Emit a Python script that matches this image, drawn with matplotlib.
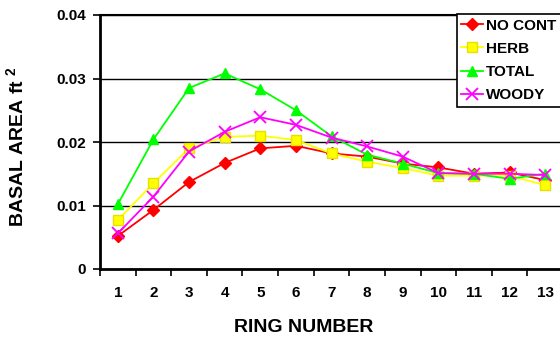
import matplotlib
matplotlib.use("Agg")
import matplotlib.pyplot as plt
from matplotlib.ticker import FixedLocator

plt.rcParams.update({
    'font.family': 'Liberation Sans',
    'font.weight': 'bold',
    'mathtext.fontset': 'custom',
    'mathtext.rm': 'Liberation Sans:bold',
    'mathtext.bf': 'Liberation Sans:bold',
    'mathtext.default': 'bf',
})

rings = list(range(1, 14))
no_cont = [0.0052, 0.0093, 0.0137, 0.0167, 0.0190, 0.0194, 0.0182, 0.0177,
           0.0166, 0.0160, 0.0150, 0.0152, 0.0140]
herb = [0.0077, 0.0135, 0.0190, 0.0208, 0.0210, 0.0203, 0.0182, 0.0169,
        0.0159, 0.0147, 0.0147, 0.0147, 0.0132]
total = [0.0102, 0.0204, 0.0285, 0.0308, 0.0283, 0.0250, 0.0209, 0.0180,
         0.0166, 0.0151, 0.0150, 0.0142, 0.0150]
woody = [0.0056, 0.0114, 0.0185, 0.0216, 0.0239, 0.0227, 0.0207, 0.0193,
         0.0177, 0.0151, 0.0150, 0.0150, 0.0148]
y_ticks = [0, 0.01, 0.02, 0.03, 0.04]
y_labels = ['0', '0.01', '0.02', '0.03', '0.04']

fig = plt.figure(figsize=(5.6, 3.37), dpi=100)
ax = fig.add_axes([100 / 560, 1 - 269 / 337, 463 / 560, 254 / 337])

ax.plot(rings, no_cont, color='#FF0000', lw=1.3, marker='D', ms=6, label='NO CONT')
ax.plot(rings, herb, color='#FFFF00', lw=1.3, marker='s', ms=6.5,
        mec='#E8E000', label='HERB')
ax.plot(rings, total, color='#00FF00', lw=1.3, marker='^', ms=7, label='TOTAL')
ax.plot(rings, woody, color='#FF00FF', lw=1.3, marker='x', ms=8, mew=1.3,
        label='WOODY')

ax.set_xlim(0.5, 13.5)
ax.set_ylim(0, 0.04)
ax.set_yticks(y_ticks, labels=y_labels)
ax.set_xticks(rings)
ax.xaxis.set_minor_locator(FixedLocator([i + 0.5 for i in range(0, 14)]))
ax.tick_params(axis='x', which='major', length=0, pad=12, labelsize=11)
ax.tick_params(axis='x', which='minor', length=5, width=1.2, direction='out')
ax.tick_params(axis='y', length=5, width=1.2, direction='out', pad=5, labelsize=11)

ax.grid(axis='y', color='black', lw=1)
ax.set_axisbelow(True)
for side in ['left', 'bottom']:
    ax.spines[side].set_linewidth(2)
ax.spines['top'].set_linewidth(1.5)

fig.text(303.8 / 560, 1 - 328 / 337, 'RING NUMBER', ha='center', va='center',
         fontsize=14)
fig.text(16 / 560, 1 - 147 / 337, r'BASAL AREA ft $^{2}$', ha='center',
         va='center', rotation=90, fontsize=14)

leg = ax.legend(loc='upper left', bbox_to_anchor=(456.7 / 560, 1 - 14 / 337),
                bbox_transform=fig.transFigure, fontsize=11, frameon=True,
                fancybox=False, edgecolor='black', framealpha=1,
                handlelength=1.42, handletextpad=0.22, labelspacing=0.6,
                borderpad=0.3, borderaxespad=0)
leg.get_frame().set_linewidth(1.2)

plt.savefig('out.png', dpi=100)
